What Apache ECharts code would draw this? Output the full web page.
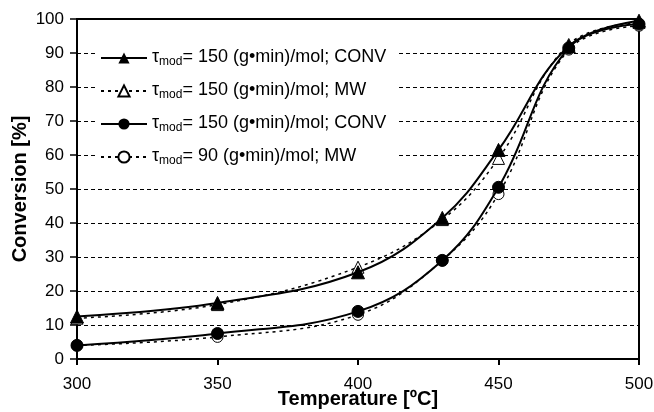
<!DOCTYPE html>
<html>
<head>
<meta charset="utf-8">
<script src="https://cdn.jsdelivr.net/npm/echarts@6/dist/echarts.min.js"></script>
<style>
  html, body { margin: 0; padding: 0; background: #fff; }
  #chart { width: 654px; height: 412px; }
</style>
</head>
<body>
<div id="chart"></div>
<script>
  // temperatures [ºC]
  var temps = [300, 350, 400, 430, 450, 475, 500]
  // conversion [%]
  var conv150 = [12.5, 16.5, 25.5, 41.5, 61.5, 92, 99.5]
  var mw150 = [12, 16, 27, 41, 59, 92.5, 99]
  var conv90 = [4, 7.5, 14, 29, 50.5, 91.5, 98.5]
  var mw90 = [4, 6.5, 13, 29, 48.5, 91, 98]
  var legendTau = ['150', '150', '150', '90']
  var legendMode = ['CONV', 'MW', 'CONV', 'MW']
  var seriesKeys = ['s1', 's2', 's3', 's4']

  function pairs(ys) {
    return temps.map(function(t, i) { return [t, ys[i]] })
  }

  let chart = echarts.init(document.getElementById('chart'))
  let font = 'Liberation Sans, Arial, sans-serif'

  let option = {
    animation: false,
    textStyle: {fontFamily: font},
    grid: {
      left: 77,
      right: 15,
      top: 19,
      bottom: 53,
      outerBoundsMode: 'none',
      show: true,
      borderColor: '#000',
      borderWidth: 2,
      backgroundColor: '#fff'
    },
    legend: {
      data: seriesKeys,
      orient: 'vertical',
      left: 95,
      top: 43,
      itemWidth: 46,
      itemHeight: 14,
      itemGap: 12,
      padding: [4, 10, 4, 5],
      backgroundColor: '#fff',
      formatter: function(name) {
        let i = seriesKeys.indexOf(name)
        return '{t|τ}{s|mod}{t|= ' + legendTau[i] + ' (g•min)/mol; ' + legendMode[i] + '}'
      },
      textStyle: {
        color: '#000',
        rich: {
          t: {fontSize: 18, color: '#000', fontFamily: font, lineHeight: 20, verticalAlign: 'top'},
          s: {fontSize: 12, color: '#000', fontFamily: font, lineHeight: 20, verticalAlign: 'bottom', padding: [9, 0, 0, 0]}
        }
      }
    },
    xAxis: {
      type: 'value',
      min: 300,
      max: 500,
      interval: 50,
      name: 'Temperature [ºC]',
      nameLocation: 'middle',
      nameGap: 30,
      nameMoveOverlap: false,
      nameTextStyle: {fontSize: 20, fontWeight: 'bold', color: '#000'},
      axisLine: {lineStyle: {color: '#000', width: 2}},
      axisTick: {show: true, inside: false, length: 6, lineStyle: {color: '#000', width: 2}},
      axisLabel: {color: '#000', fontSize: 17, margin: 17},
      splitLine: {show: false}
    },
    yAxis: {
      type: 'value',
      min: 0,
      max: 100,
      interval: 10,
      name: 'Conversion [%]',
      nameLocation: 'middle',
      nameGap: 47,
      nameMoveOverlap: false,
      nameTextStyle: {fontSize: 20, fontWeight: 'bold', color: '#000'},
      axisLine: {show: true, lineStyle: {color: '#000', width: 2}},
      axisTick: {show: true, length: 7, lineStyle: {color: '#000', width: 1.5}},
      axisLabel: {color: '#000', fontSize: 17, margin: 13},
      splitLine: {show: true, lineStyle: {color: '#000', width: 1, type: [4, 3]}}
    },
    series: [
      {
        name: 's1',
        type: 'line',
        smooth: 0.4,
        data: pairs(conv150),
        symbol: 'triangle',
        symbolSize: 13,
        itemStyle: {color: '#000', borderColor: '#000'},
        lineStyle: {color: '#000', width: 2},
        z: 4
      },
      {
        name: 's2',
        type: 'line',
        smooth: 0.4,
        data: pairs(mw150),
        symbol: 'triangle',
        symbolSize: 12,
        itemStyle: {color: '#fff', borderColor: '#000', borderWidth: 1},
        lineStyle: {color: '#000', width: 1.5, type: [3, 4]},
        z: 3
      },
      {
        name: 's3',
        type: 'line',
        smooth: 0.4,
        data: pairs(conv90),
        symbol: 'circle',
        symbolSize: 12,
        itemStyle: {color: '#000', borderColor: '#000'},
        lineStyle: {color: '#000', width: 2},
        z: 4
      },
      {
        name: 's4',
        type: 'line',
        smooth: 0.4,
        data: pairs(mw90),
        symbol: 'circle',
        symbolSize: 11,
        itemStyle: {color: '#fff', borderColor: '#000', borderWidth: 1},
        lineStyle: {color: '#000', width: 1.5, type: [3, 4]},
        z: 3
      }
    ]
  }
  chart.setOption(option)
</script>
</body>
</html>
